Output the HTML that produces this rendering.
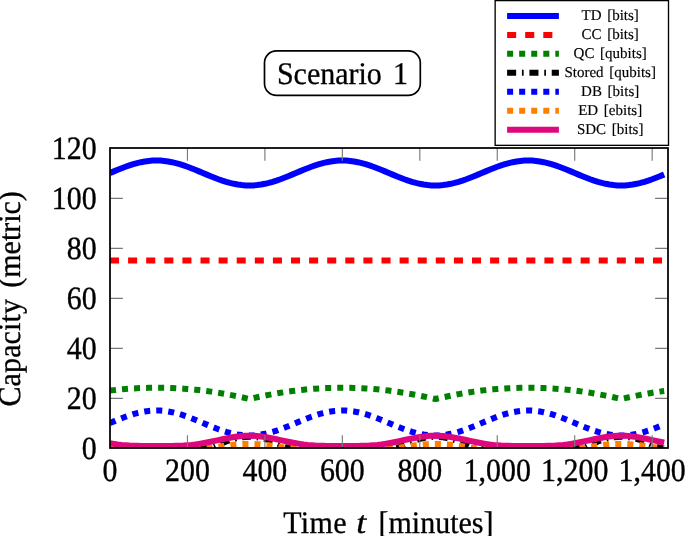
<!DOCTYPE html>
<html><head><meta charset="utf-8"><title>Scenario 1</title>
<style>html,body{margin:0;padding:0;background:#fff;}svg{display:block;will-change:transform;}text{font-family:"Liberation Serif",serif;fill:#000;text-rendering:geometricPrecision;}</style></head>
<body>
<svg width="685" height="536" viewBox="0 0 685 536">
<rect x="0" y="0" width="685" height="536" fill="#fff"/>
<defs><clipPath id="c"><rect x="110.00" y="148.00" width="558.00" height="300.00"/></clipPath></defs>
<g clip-path="url(#c)" fill="none" stroke-width="6.03" stroke-linejoin="round">
<path d="M110.00 173.00 L113.87 171.37 L117.75 169.76 L121.62 168.22 L125.49 166.75 L129.36 165.39 L133.24 164.16 L137.11 163.08 L140.98 162.17 L144.85 161.45 L148.73 160.93 L152.60 160.61 L156.47 160.50 L160.34 160.61 L164.22 160.93 L168.09 161.45 L171.96 162.17 L175.83 163.08 L179.71 164.16 L183.58 165.39 L187.45 166.75 L191.32 168.22 L195.20 169.76 L199.07 171.37 L202.94 173.00 L206.81 174.63 L210.69 176.24 L214.56 177.78 L218.43 179.25 L222.30 180.61 L226.18 181.84 L230.05 182.92 L233.92 183.83 L237.80 184.55 L241.67 185.07 L245.54 185.39 L249.41 185.50 L253.29 185.39 L257.16 185.07 L261.03 184.55 L264.90 183.83 L268.78 182.92 L272.65 181.84 L276.52 180.61 L280.39 179.25 L284.27 177.78 L288.14 176.24 L292.01 174.63 L295.88 173.00 L299.76 171.37 L303.63 169.76 L307.50 168.22 L311.37 166.75 L315.25 165.39 L319.12 164.16 L322.99 163.08 L326.86 162.17 L330.74 161.45 L334.61 160.93 L338.48 160.61 L342.35 160.50 L346.23 160.61 L350.10 160.93 L353.97 161.45 L357.85 162.17 L361.72 163.08 L365.59 164.16 L369.46 165.39 L373.34 166.75 L377.21 168.22 L381.08 169.76 L384.95 171.37 L388.83 173.00 L392.70 174.63 L396.57 176.24 L400.44 177.78 L404.32 179.25 L408.19 180.61 L412.06 181.84 L415.93 182.92 L419.81 183.83 L423.68 184.55 L427.55 185.07 L431.42 185.39 L435.30 185.50 L439.17 185.39 L443.04 185.07 L446.91 184.55 L450.79 183.83 L454.66 182.92 L458.53 181.84 L462.40 180.61 L466.28 179.25 L470.15 177.78 L474.02 176.24 L477.90 174.63 L481.77 173.00 L485.64 171.37 L489.51 169.76 L493.39 168.22 L497.26 166.75 L501.13 165.39 L505.00 164.16 L508.88 163.08 L512.75 162.17 L516.62 161.45 L520.49 160.93 L524.37 160.61 L528.24 160.50 L532.11 160.61 L535.98 160.93 L539.86 161.45 L543.73 162.17 L547.60 163.08 L551.47 164.16 L555.35 165.39 L559.22 166.75 L563.09 168.22 L566.96 169.76 L570.84 171.37 L574.71 173.00 L578.58 174.63 L582.45 176.24 L586.33 177.78 L590.20 179.25 L594.07 180.61 L597.95 181.84 L601.82 182.92 L605.69 183.83 L609.56 184.55 L613.44 185.07 L617.31 185.39 L621.18 185.50 L625.05 185.39 L628.93 185.07 L632.80 184.55 L636.67 183.83 L640.54 182.92 L644.42 181.84 L648.29 180.61 L652.16 179.25 L656.03 177.78 L659.91 176.24 L663.78 174.63 L664.17 174.47" stroke="#0000ff"/>
<path d="M110.00 260.50 L113.87 260.50 L117.75 260.50 L121.62 260.50 L125.49 260.50 L129.36 260.50 L133.24 260.50 L137.11 260.50 L140.98 260.50 L144.85 260.50 L148.73 260.50 L152.60 260.50 L156.47 260.50 L160.34 260.50 L164.22 260.50 L168.09 260.50 L171.96 260.50 L175.83 260.50 L179.71 260.50 L183.58 260.50 L187.45 260.50 L191.32 260.50 L195.20 260.50 L199.07 260.50 L202.94 260.50 L206.81 260.50 L210.69 260.50 L214.56 260.50 L218.43 260.50 L222.30 260.50 L226.18 260.50 L230.05 260.50 L233.92 260.50 L237.80 260.50 L241.67 260.50 L245.54 260.50 L249.41 260.50 L253.29 260.50 L257.16 260.50 L261.03 260.50 L264.90 260.50 L268.78 260.50 L272.65 260.50 L276.52 260.50 L280.39 260.50 L284.27 260.50 L288.14 260.50 L292.01 260.50 L295.88 260.50 L299.76 260.50 L303.63 260.50 L307.50 260.50 L311.37 260.50 L315.25 260.50 L319.12 260.50 L322.99 260.50 L326.86 260.50 L330.74 260.50 L334.61 260.50 L338.48 260.50 L342.35 260.50 L346.23 260.50 L350.10 260.50 L353.97 260.50 L357.85 260.50 L361.72 260.50 L365.59 260.50 L369.46 260.50 L373.34 260.50 L377.21 260.50 L381.08 260.50 L384.95 260.50 L388.83 260.50 L392.70 260.50 L396.57 260.50 L400.44 260.50 L404.32 260.50 L408.19 260.50 L412.06 260.50 L415.93 260.50 L419.81 260.50 L423.68 260.50 L427.55 260.50 L431.42 260.50 L435.30 260.50 L439.17 260.50 L443.04 260.50 L446.91 260.50 L450.79 260.50 L454.66 260.50 L458.53 260.50 L462.40 260.50 L466.28 260.50 L470.15 260.50 L474.02 260.50 L477.90 260.50 L481.77 260.50 L485.64 260.50 L489.51 260.50 L493.39 260.50 L497.26 260.50 L501.13 260.50 L505.00 260.50 L508.88 260.50 L512.75 260.50 L516.62 260.50 L520.49 260.50 L524.37 260.50 L528.24 260.50 L532.11 260.50 L535.98 260.50 L539.86 260.50 L543.73 260.50 L547.60 260.50 L551.47 260.50 L555.35 260.50 L559.22 260.50 L563.09 260.50 L566.96 260.50 L570.84 260.50 L574.71 260.50 L578.58 260.50 L582.45 260.50 L586.33 260.50 L590.20 260.50 L594.07 260.50 L597.95 260.50 L601.82 260.50 L605.69 260.50 L609.56 260.50 L613.44 260.50 L617.31 260.50 L621.18 260.50 L625.05 260.50 L628.93 260.50 L632.80 260.50 L636.67 260.50 L640.54 260.50 L644.42 260.50 L648.29 260.50 L652.16 260.50 L656.03 260.50 L659.91 260.50 L663.78 260.50 L664.17 260.50" stroke="#ff0000" stroke-dasharray="9.05 9.05"/>
<path d="M110.00 390.58 L113.87 390.12 L117.75 389.71 L121.62 389.33 L125.49 389.00 L129.36 388.70 L133.24 388.45 L137.11 388.23 L140.98 388.06 L144.85 387.92 L148.73 387.83 L152.60 387.77 L156.47 387.75 L160.34 387.77 L164.22 387.83 L168.09 387.92 L171.96 388.06 L175.83 388.23 L179.71 388.45 L183.58 388.70 L187.45 389.00 L191.32 389.33 L195.20 389.71 L199.07 390.12 L202.94 390.58 L206.81 391.08 L210.69 391.62 L214.56 392.19 L218.43 392.81 L222.30 393.47 L226.18 394.16 L230.05 394.89 L233.92 395.66 L237.80 396.45 L241.67 397.28 L245.54 398.13 L249.41 399.00 L253.29 398.13 L257.16 397.28 L261.03 396.45 L264.90 395.66 L268.78 394.89 L272.65 394.16 L276.52 393.47 L280.39 392.81 L284.27 392.19 L288.14 391.62 L292.01 391.08 L295.88 390.58 L299.76 390.12 L303.63 389.71 L307.50 389.33 L311.37 389.00 L315.25 388.70 L319.12 388.45 L322.99 388.23 L326.86 388.06 L330.74 387.92 L334.61 387.83 L338.48 387.77 L342.35 387.75 L346.23 387.77 L350.10 387.83 L353.97 387.92 L357.85 388.06 L361.72 388.23 L365.59 388.45 L369.46 388.70 L373.34 389.00 L377.21 389.33 L381.08 389.71 L384.95 390.12 L388.83 390.58 L392.70 391.08 L396.57 391.62 L400.44 392.19 L404.32 392.81 L408.19 393.47 L412.06 394.16 L415.93 394.89 L419.81 395.66 L423.68 396.45 L427.55 397.28 L431.42 398.13 L435.30 399.00 L439.17 398.13 L443.04 397.28 L446.91 396.45 L450.79 395.66 L454.66 394.89 L458.53 394.16 L462.40 393.47 L466.28 392.81 L470.15 392.19 L474.02 391.62 L477.90 391.08 L481.77 390.58 L485.64 390.12 L489.51 389.71 L493.39 389.33 L497.26 389.00 L501.13 388.70 L505.00 388.45 L508.88 388.23 L512.75 388.06 L516.62 387.92 L520.49 387.83 L524.37 387.77 L528.24 387.75 L532.11 387.77 L535.98 387.83 L539.86 387.92 L543.73 388.06 L547.60 388.23 L551.47 388.45 L555.35 388.70 L559.22 389.00 L563.09 389.33 L566.96 389.71 L570.84 390.12 L574.71 390.58 L578.58 391.08 L582.45 391.62 L586.33 392.19 L590.20 392.81 L594.07 393.47 L597.95 394.16 L601.82 394.89 L605.69 395.66 L609.56 396.45 L613.44 397.28 L617.31 398.13 L621.18 399.00 L625.05 398.13 L628.93 397.28 L632.80 396.45 L636.67 395.66 L640.54 394.89 L644.42 394.16 L648.29 393.47 L652.16 392.81 L656.03 392.19 L659.91 391.62 L663.78 391.08 L664.17 391.03" stroke="#008000" stroke-dasharray="6.03 6.03"/>
<path d="M110.00 448.00 L113.87 448.00 L117.75 448.00 L121.62 448.00 L125.49 448.00 L129.36 448.00 L133.24 448.00 L137.11 448.00 L140.98 448.00 L144.85 448.00 L148.73 448.00 L152.60 448.00 L156.47 448.00 L160.34 448.00 L164.22 448.00 L168.09 448.00 L171.96 448.00 L175.83 448.00 L179.71 448.00 L183.58 448.00 L187.45 448.00 L191.32 448.00 L195.20 448.00 L199.07 448.00 L202.94 448.00 L206.81 448.00 L210.69 448.00 L214.56 446.78 L218.43 444.88 L222.30 443.11 L226.18 441.51 L230.05 440.11 L233.92 438.93 L237.80 437.99 L241.67 437.30 L245.54 436.89 L249.41 436.75 L253.29 436.89 L257.16 437.30 L261.03 437.99 L264.90 438.93 L268.78 440.11 L272.65 441.51 L276.52 443.11 L280.39 444.88 L284.27 446.78 L288.14 448.00 L292.01 448.00 L295.88 448.00 L299.76 448.00 L303.63 448.00 L307.50 448.00 L311.37 448.00 L315.25 448.00 L319.12 448.00 L322.99 448.00 L326.86 448.00 L330.74 448.00 L334.61 448.00 L338.48 448.00 L342.35 448.00 L346.23 448.00 L350.10 448.00 L353.97 448.00 L357.85 448.00 L361.72 448.00 L365.59 448.00 L369.46 448.00 L373.34 448.00 L377.21 448.00 L381.08 448.00 L384.95 448.00 L388.83 448.00 L392.70 448.00 L396.57 448.00 L400.44 446.78 L404.32 444.88 L408.19 443.11 L412.06 441.51 L415.93 440.11 L419.81 438.93 L423.68 437.99 L427.55 437.30 L431.42 436.89 L435.30 436.75 L439.17 436.89 L443.04 437.30 L446.91 437.99 L450.79 438.93 L454.66 440.11 L458.53 441.51 L462.40 443.11 L466.28 444.88 L470.15 446.78 L474.02 448.00 L477.90 448.00 L481.77 448.00 L485.64 448.00 L489.51 448.00 L493.39 448.00 L497.26 448.00 L501.13 448.00 L505.00 448.00 L508.88 448.00 L512.75 448.00 L516.62 448.00 L520.49 448.00 L524.37 448.00 L528.24 448.00 L532.11 448.00 L535.98 448.00 L539.86 448.00 L543.73 448.00 L547.60 448.00 L551.47 448.00 L555.35 448.00 L559.22 448.00 L563.09 448.00 L566.96 448.00 L570.84 448.00 L574.71 448.00 L578.58 448.00 L582.45 448.00 L586.33 446.78 L590.20 444.88 L594.07 443.11 L597.95 441.51 L601.82 440.11 L605.69 438.93 L609.56 437.99 L613.44 437.30 L617.31 436.89 L621.18 436.75 L625.05 436.89 L628.93 437.30 L632.80 437.99 L636.67 438.93 L640.54 440.11 L644.42 441.51 L648.29 443.11 L652.16 444.87 L656.03 446.78 L659.91 448.00 L663.78 448.00 L664.17 448.00" stroke="#000000" stroke-dasharray="9.05 5.78 1.71 5.78"/>
<path d="M110.00 423.00 L113.87 421.37 L117.75 419.76 L121.62 418.22 L125.49 416.75 L129.36 415.39 L133.24 414.16 L137.11 413.08 L140.98 412.17 L144.85 411.45 L148.73 410.93 L152.60 410.61 L156.47 410.50 L160.34 410.61 L164.22 410.93 L168.09 411.45 L171.96 412.17 L175.83 413.08 L179.71 414.16 L183.58 415.39 L187.45 416.75 L191.32 418.22 L195.20 419.76 L199.07 421.37 L202.94 423.00 L206.81 424.63 L210.69 426.24 L214.56 427.78 L218.43 429.25 L222.30 430.61 L226.18 431.84 L230.05 432.92 L233.92 433.83 L237.80 434.55 L241.67 435.07 L245.54 435.39 L249.41 435.50 L253.29 435.39 L257.16 435.07 L261.03 434.55 L264.90 433.83 L268.78 432.92 L272.65 431.84 L276.52 430.61 L280.39 429.25 L284.27 427.78 L288.14 426.24 L292.01 424.63 L295.88 423.00 L299.76 421.37 L303.63 419.76 L307.50 418.22 L311.37 416.75 L315.25 415.39 L319.12 414.16 L322.99 413.08 L326.86 412.17 L330.74 411.45 L334.61 410.93 L338.48 410.61 L342.35 410.50 L346.23 410.61 L350.10 410.93 L353.97 411.45 L357.85 412.17 L361.72 413.08 L365.59 414.16 L369.46 415.39 L373.34 416.75 L377.21 418.22 L381.08 419.76 L384.95 421.37 L388.83 423.00 L392.70 424.63 L396.57 426.24 L400.44 427.78 L404.32 429.25 L408.19 430.61 L412.06 431.84 L415.93 432.92 L419.81 433.83 L423.68 434.55 L427.55 435.07 L431.42 435.39 L435.30 435.50 L439.17 435.39 L443.04 435.07 L446.91 434.55 L450.79 433.83 L454.66 432.92 L458.53 431.84 L462.40 430.61 L466.28 429.25 L470.15 427.78 L474.02 426.24 L477.90 424.63 L481.77 423.00 L485.64 421.37 L489.51 419.76 L493.39 418.22 L497.26 416.75 L501.13 415.39 L505.00 414.16 L508.88 413.08 L512.75 412.17 L516.62 411.45 L520.49 410.93 L524.37 410.61 L528.24 410.50 L532.11 410.61 L535.98 410.93 L539.86 411.45 L543.73 412.17 L547.60 413.08 L551.47 414.16 L555.35 415.39 L559.22 416.75 L563.09 418.22 L566.96 419.76 L570.84 421.37 L574.71 423.00 L578.58 424.63 L582.45 426.24 L586.33 427.78 L590.20 429.25 L594.07 430.61 L597.95 431.84 L601.82 432.92 L605.69 433.83 L609.56 434.55 L613.44 435.07 L617.31 435.39 L621.18 435.50 L625.05 435.39 L628.93 435.07 L632.80 434.55 L636.67 433.83 L640.54 432.92 L644.42 431.84 L648.29 430.61 L652.16 429.25 L656.03 427.78 L659.91 426.24 L663.78 424.63 L664.17 424.47" stroke="#0000ff" stroke-dasharray="6.03 6.03"/>
<path d="M110.00 448.00 L113.87 448.00 L117.75 448.00 L121.62 448.00 L125.49 448.00 L129.36 448.00 L133.24 448.00 L137.11 448.00 L140.98 448.00 L144.85 448.00 L148.73 448.00 L152.60 448.00 L156.47 448.00 L160.34 448.00 L164.22 448.00 L168.09 448.00 L171.96 448.00 L175.83 448.00 L179.71 448.00 L183.58 448.00 L187.45 448.00 L191.32 448.00 L195.20 448.00 L199.07 448.00 L202.94 448.00 L206.81 448.00 L210.69 448.00 L214.56 447.56 L218.43 446.88 L222.30 446.24 L226.18 445.66 L230.05 445.16 L233.92 444.73 L237.80 444.40 L241.67 444.15 L245.54 444.00 L249.41 443.95 L253.29 444.00 L257.16 444.15 L261.03 444.40 L264.90 444.73 L268.78 445.16 L272.65 445.66 L276.52 446.24 L280.39 446.88 L284.27 447.56 L288.14 448.00 L292.01 448.00 L295.88 448.00 L299.76 448.00 L303.63 448.00 L307.50 448.00 L311.37 448.00 L315.25 448.00 L319.12 448.00 L322.99 448.00 L326.86 448.00 L330.74 448.00 L334.61 448.00 L338.48 448.00 L342.35 448.00 L346.23 448.00 L350.10 448.00 L353.97 448.00 L357.85 448.00 L361.72 448.00 L365.59 448.00 L369.46 448.00 L373.34 448.00 L377.21 448.00 L381.08 448.00 L384.95 448.00 L388.83 448.00 L392.70 448.00 L396.57 448.00 L400.44 447.56 L404.32 446.88 L408.19 446.24 L412.06 445.66 L415.93 445.16 L419.81 444.73 L423.68 444.40 L427.55 444.15 L431.42 444.00 L435.30 443.95 L439.17 444.00 L443.04 444.15 L446.91 444.40 L450.79 444.73 L454.66 445.16 L458.53 445.66 L462.40 446.24 L466.28 446.88 L470.15 447.56 L474.02 448.00 L477.90 448.00 L481.77 448.00 L485.64 448.00 L489.51 448.00 L493.39 448.00 L497.26 448.00 L501.13 448.00 L505.00 448.00 L508.88 448.00 L512.75 448.00 L516.62 448.00 L520.49 448.00 L524.37 448.00 L528.24 448.00 L532.11 448.00 L535.98 448.00 L539.86 448.00 L543.73 448.00 L547.60 448.00 L551.47 448.00 L555.35 448.00 L559.22 448.00 L563.09 448.00 L566.96 448.00 L570.84 448.00 L574.71 448.00 L578.58 448.00 L582.45 448.00 L586.33 447.56 L590.20 446.88 L594.07 446.24 L597.95 445.66 L601.82 445.16 L605.69 444.73 L609.56 444.40 L613.44 444.15 L617.31 444.00 L621.18 443.95 L625.05 444.00 L628.93 444.15 L632.80 444.40 L636.67 444.73 L640.54 445.16 L644.42 445.66 L648.29 446.24 L652.16 446.88 L656.03 447.56 L659.91 448.00 L663.78 448.00 L664.17 448.00" stroke="#ff8000" stroke-dasharray="6.03 6.03"/>
<path d="M110.00 443.25 L113.87 443.89 L117.75 444.45 L121.62 444.90 L125.49 445.26 L129.36 445.54 L133.24 445.73 L137.11 445.86 L140.98 445.94 L144.85 445.98 L148.73 446.00 L152.60 446.00 L156.47 446.00 L160.34 446.00 L164.22 446.00 L168.09 445.98 L171.96 445.94 L175.83 445.86 L179.71 445.73 L183.58 445.54 L187.45 445.26 L191.32 444.90 L195.20 444.45 L199.07 443.89 L202.94 443.25 L206.81 442.53 L210.69 441.75 L214.56 440.92 L218.43 440.07 L222.30 439.22 L226.18 438.41 L230.05 437.67 L233.92 437.02 L237.80 436.48 L241.67 436.08 L245.54 435.83 L249.41 435.75 L253.29 435.83 L257.16 436.08 L261.03 436.48 L264.90 437.02 L268.78 437.67 L272.65 438.41 L276.52 439.22 L280.39 440.07 L284.27 440.92 L288.14 441.75 L292.01 442.53 L295.88 443.25 L299.76 443.89 L303.63 444.45 L307.50 444.90 L311.37 445.26 L315.25 445.54 L319.12 445.73 L322.99 445.86 L326.86 445.94 L330.74 445.98 L334.61 446.00 L338.48 446.00 L342.35 446.00 L346.23 446.00 L350.10 446.00 L353.97 445.98 L357.85 445.94 L361.72 445.86 L365.59 445.73 L369.46 445.54 L373.34 445.26 L377.21 444.90 L381.08 444.45 L384.95 443.89 L388.83 443.25 L392.70 442.53 L396.57 441.75 L400.44 440.92 L404.32 440.07 L408.19 439.22 L412.06 438.41 L415.93 437.67 L419.81 437.02 L423.68 436.48 L427.55 436.08 L431.42 435.83 L435.30 435.75 L439.17 435.83 L443.04 436.08 L446.91 436.48 L450.79 437.02 L454.66 437.67 L458.53 438.41 L462.40 439.22 L466.28 440.07 L470.15 440.92 L474.02 441.75 L477.90 442.53 L481.77 443.25 L485.64 443.89 L489.51 444.45 L493.39 444.90 L497.26 445.26 L501.13 445.54 L505.00 445.73 L508.88 445.86 L512.75 445.94 L516.62 445.98 L520.49 446.00 L524.37 446.00 L528.24 446.00 L532.11 446.00 L535.98 446.00 L539.86 445.98 L543.73 445.94 L547.60 445.86 L551.47 445.73 L555.35 445.54 L559.22 445.26 L563.09 444.90 L566.96 444.45 L570.84 443.89 L574.71 443.25 L578.58 442.53 L582.45 441.75 L586.33 440.92 L590.20 440.07 L594.07 439.22 L597.95 438.41 L601.82 437.67 L605.69 437.02 L609.56 436.48 L613.44 436.08 L617.31 435.83 L621.18 435.75 L625.05 435.83 L628.93 436.08 L632.80 436.48 L636.67 437.02 L640.54 437.67 L644.42 438.41 L648.29 439.22 L652.16 440.07 L656.03 440.92 L659.91 441.75 L663.78 442.53 L664.17 442.61" stroke="#de087d"/>
</g>
<g stroke="#7a7a7a" stroke-width="1.15">
<path d="M187.45 448.00V435.13M187.45 148.00V160.87"/>
<path d="M264.90 448.00V435.13M264.90 148.00V160.87"/>
<path d="M342.35 448.00V435.13M342.35 148.00V160.87"/>
<path d="M419.81 448.00V435.13M419.81 148.00V160.87"/>
<path d="M497.26 448.00V435.13M497.26 148.00V160.87"/>
<path d="M574.71 448.00V435.13M574.71 148.00V160.87"/>
<path d="M652.16 448.00V435.13M652.16 148.00V160.87"/>
<path d="M110.00 398.40H122.87M668.00 398.40H655.13"/>
<path d="M110.00 348.40H122.87M668.00 348.40H655.13"/>
<path d="M110.00 298.40H122.87M668.00 298.40H655.13"/>
<path d="M110.00 248.40H122.87M668.00 248.40H655.13"/>
<path d="M110.00 198.40H122.87M668.00 198.40H655.13"/>
</g>
<rect x="110.00" y="148.00" width="558.00" height="300.00" fill="none" stroke="#000" stroke-width="1.75"/>
<g font-size="29.9" stroke="#000" stroke-width="0.35">
<text transform="translate(96.7 459.10) scale(1 1.085)" text-anchor="end">0</text>
<text transform="translate(96.7 409.10) scale(1 1.085)" text-anchor="end">20</text>
<text transform="translate(96.7 359.10) scale(1 1.085)" text-anchor="end">40</text>
<text transform="translate(96.7 309.10) scale(1 1.085)" text-anchor="end">60</text>
<text transform="translate(96.7 259.10) scale(1 1.085)" text-anchor="end">80</text>
<text transform="translate(96.7 209.10) scale(1 1.085)" text-anchor="end">100</text>
<text transform="translate(96.7 159.10) scale(1 1.085)" text-anchor="end">120</text>
<text transform="translate(110.00 480.8) scale(1 1.085)" text-anchor="middle">0</text>
<text transform="translate(187.45 480.8) scale(1 1.085)" text-anchor="middle">200</text>
<text transform="translate(264.90 480.8) scale(1 1.085)" text-anchor="middle">400</text>
<text transform="translate(342.35 480.8) scale(1 1.085)" text-anchor="middle">600</text>
<text transform="translate(419.81 480.8) scale(1 1.085)" text-anchor="middle">800</text>
<text transform="translate(497.26 480.8) scale(1 1.085)" text-anchor="middle">1,000</text>
<text transform="translate(574.71 480.8) scale(1 1.085)" text-anchor="middle">1,200</text>
<text transform="translate(652.16 480.8) scale(1 1.085)" text-anchor="middle">1,400</text>
</g>
<g font-size="30" stroke="#000" stroke-width="0.3"><text transform="translate(283.3 532.7) scale(1 1.05)" letter-spacing="0.3">Time</text><text transform="translate(356.3 532.7) scale(1.2 1.05)" font-style="italic">t</text><text transform="translate(378.5 532.7) scale(1 1.05)">[minutes]</text></g>
<text transform="translate(20.4 406.6) rotate(-90) scale(1 1.05)" font-size="30" word-spacing="3.6" stroke="#000" stroke-width="0.3"><tspan letter-spacing="0.14">Capacity</tspan> (metric)</text>
<rect x="264.5" y="50.8" width="155.8" height="44.6" rx="12" ry="12" fill="#fff" stroke="#000" stroke-width="1.7"/>
<text transform="translate(276.9 84.0) scale(1 1.05)" font-size="30" word-spacing="3.7" stroke="#000" stroke-width="0.3">Scenario 1</text>
<rect x="495.15" y="0.6" width="173.35" height="144.75" fill="#fff" stroke="#000" stroke-width="1.35"/>
<g fill="none" stroke-width="6.03">
<path d="M507.1 15.95H558.9" stroke="#0000ff"/>
<path d="M507.1 34.90H558.9" stroke="#ff0000" stroke-dasharray="9.05 9.05"/>
<path d="M507.1 53.85H558.9" stroke="#008000" stroke-dasharray="6.03 6.03"/>
<path d="M507.1 72.80H558.9" stroke="#000000" stroke-dasharray="9.05 5.78 1.71 5.78"/>
<path d="M507.1 91.75H558.9" stroke="#0000ff" stroke-dasharray="6.03 6.03"/>
<path d="M507.1 110.70H558.9" stroke="#ff8000" stroke-dasharray="6.03 6.03"/>
<path d="M507.1 129.65H558.9" stroke="#de087d"/>
</g>
<g font-size="15" text-anchor="middle" word-spacing="1.9" stroke="#000" stroke-width="0.15">
<text x="610.2" y="20.10">TD [bits]</text>
<text x="610.2" y="39.05">CC [bits]</text>
<text x="610.2" y="58.00">QC [qubits]</text>
<text x="610.2" y="76.95">Stored [qubits]</text>
<text x="610.2" y="95.90">DB [bits]</text>
<text x="610.2" y="114.85">ED [ebits]</text>
<text x="610.2" y="133.80">SDC [bits]</text>
</g>
</svg></body></html>
